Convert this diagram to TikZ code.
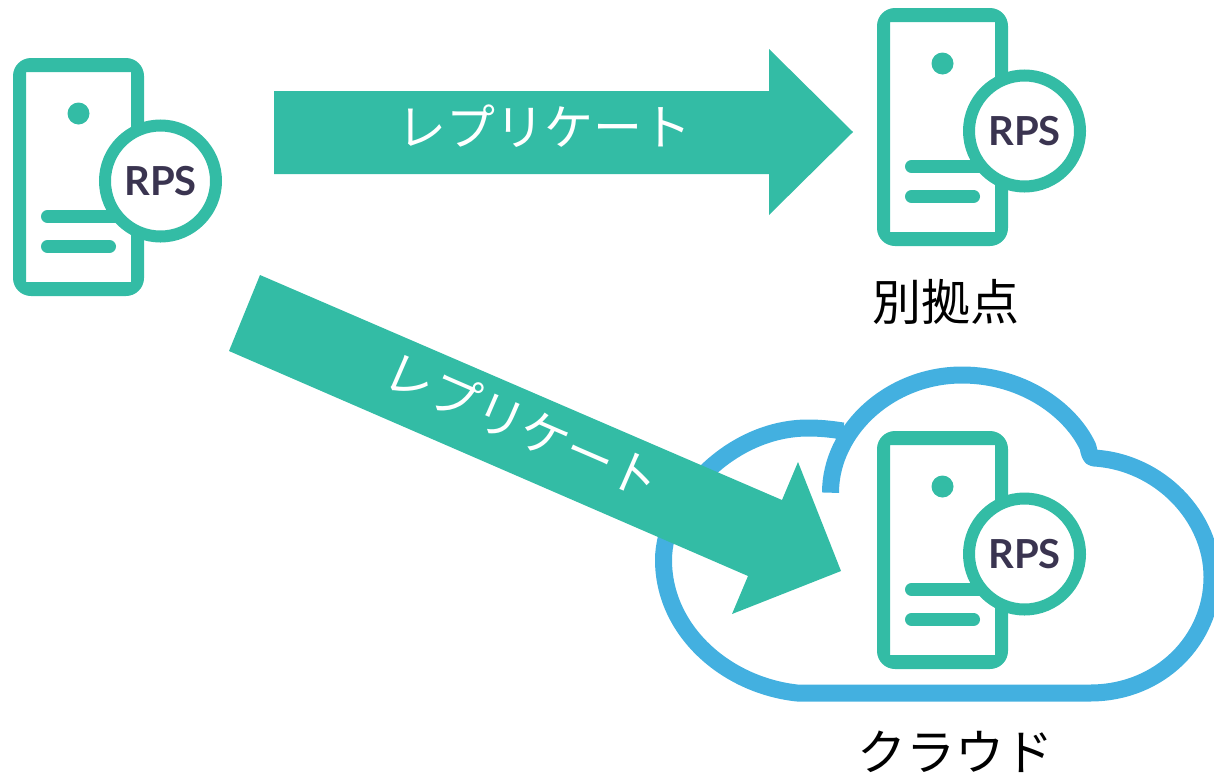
\documentclass[tikz,border=0pt]{standalone}
\usepackage{fontspec}
\newfontfamily\cjk{Noto Sans CJK JP}
\newfontfamily\rpsfont{Lato}
\definecolor{teal}{HTML}{33BCA5}
\definecolor{cloudblue}{HTML}{43B0E0}
\definecolor{rpsink}{HTML}{3A3450}
\tikzset{
  bar/.style={line width=13pt,draw=teal,line cap=round},
  bigarrow/.style={fill=teal,draw=none},
  repl/.style={font=\cjk\fontsize{49}{49}\selectfont,text=white,inner sep=0pt},
  place/.style={font=\cjk\fontsize{49}{49}\selectfont,text=black,inner sep=0pt},
  server/.pic={
    \fill[teal,even odd rule] [rounded corners=18pt] (13,58) rectangle (144,296) [sharp corners] (26,72) rectangle (131,282);
    \fill[teal] (78.5,113.5) circle (11);
    \draw[bar] (47.5,216.5) -- (130,216.5);
    \draw[bar] (47.5,246.5) -- (109.5,246.5);
    \node[circle,draw=teal,fill=white,line width=12pt,minimum size=111pt,inner sep=0pt,font=\rpsfont\fontsize{40}{40}\selectfont\bfseries,text=rpsink] (-rps) at (160.5,181) {\raisebox{-1pt}{RPS}};
  }
}
\begin{document}
\begin{tikzpicture}[x=1pt,y=-1pt]
\useasboundingbox (0,0) rectangle (1214,774);
\begin{scope}
\clip (0,0) rectangle (1214,701.7);
\draw[cloudblue,line width=17pt,line join=round]
  (830.5,492.7) .. controls (830.5,430) and (890,375) .. (962,375)
  .. controls (1025,375) and (1072,412) .. (1088,447)
  .. controls (1089,452) and (1090,458) .. (1094,458)
  .. controls (1160,462) and (1212,517) .. (1212,577)
  .. controls (1212,640) and (1160,693) .. (1090,693)
  -- (797,693)
  .. controls (725,685) and (663.5,630) .. (663.5,560)
  .. controls (663.5,500) and (730,428) .. (808,428)
  .. controls (820,428) and (830,429) .. (843,431);
\end{scope}
\pic (srcserver) at (0,0) {server};
\pic (siteserver) at (864,-50) {server};
\pic (cloudserver) at (864,373) {server};
\fill[bigarrow] (274,91) -- (769,91) -- (769,49) -- (853,132) -- (769,215) -- (769,174) -- (274,174) -- cycle;
\fill[bigarrow] (260,275) -- (782,500) -- (798,462) -- (841,571) -- (732,614) -- (748,576) -- (229,351) -- cycle;
\node[repl] (replA) at (544,126) {レプリケート};
\node[repl,rotate=-23.4] (replB) at (523,425) {レプリケート};
\node[place] (site) at (946,302) {別拠点};
\node[place] (cloud) at (955,752) {クラウド};
\end{tikzpicture}
\end{document}
